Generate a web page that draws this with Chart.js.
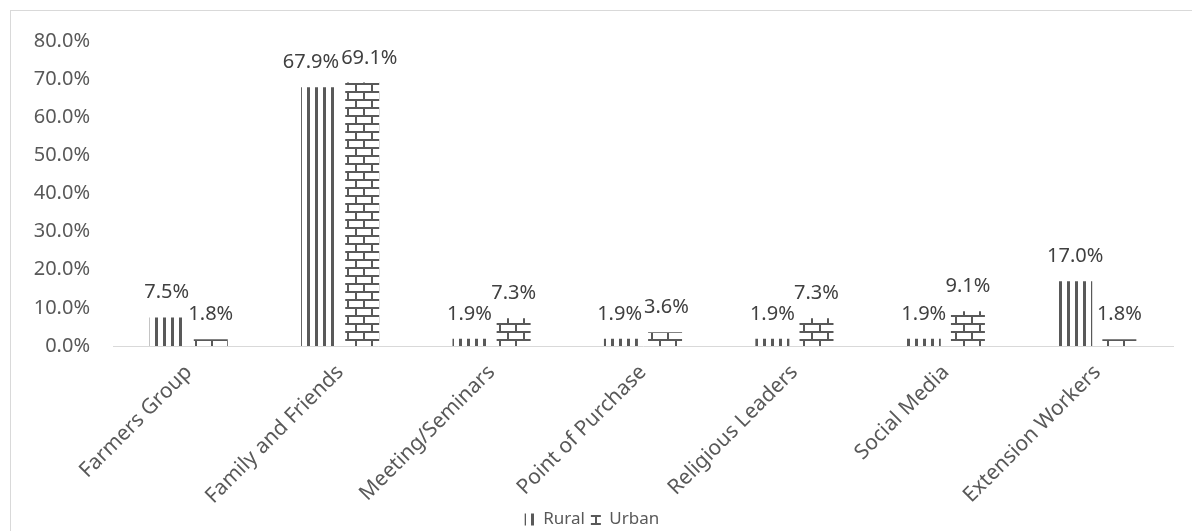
<!DOCTYPE html>
<html>
<head>
<meta charset="utf-8">
<script src="https://cdn.jsdelivr.net/npm/chart.js@4"></script>
<style>
  body { margin: 0; background: #fff; }
  .frame { position: absolute; left: 10px; top: 10px; width: 1181px; height: 520px;
           border-left: 1px solid #d9d9d9; border-top: 1px solid #d9d9d9; }
</style>
</head>
<body>
<div class="frame"><canvas id="myChart" width="1181" height="520"></canvas></div>
<script>
const categories = ["Farmers Group", "Family and Friends", "Meeting/Seminars", "Point of Purchase",
                    "Religious Leaders", "Social Media", "Extension Workers"];
const ruralValues = [7.5, 67.9, 1.9, 1.9, 1.9, 1.9, 17.0];
const urbanValues = [1.8, 69.1, 7.3, 3.6, 7.3, 9.1, 1.8];
const yTicks = [0, 10, 20, 30, 40, 50, 60, 70, 80];

const ink = "#595959";
const fontName = "'Noto Sans', sans-serif";

// vertical stripes for rural
const makeStripes = () => {
  const c = document.createElement("canvas");
  c.width = 8; c.height = 8;
  const g = c.getContext("2d");
  g.fillStyle = "#fff"; g.fillRect(0, 0, 8, 8);
  g.fillStyle = ink; g.fillRect(0, 0, 3, 8);
  return g.createPattern(c, "repeat");
}

// horizontal brick for urban
const makeBricks = () => {
  const c = document.createElement("canvas");
  c.width = 16; c.height = 16;
  const g = c.getContext("2d");
  g.fillStyle = "#fff"; g.fillRect(0, 0, 16, 16);
  g.fillStyle = ink;
  g.fillRect(0, 0, 16, 2);
  g.fillRect(0, 8, 16, 2);
  g.fillRect(0, 0, 2, 8);
  g.fillRect(8, 8, 2, 8);
  return g.createPattern(c, "repeat");
}

const valueLabels = {
  id: "valueLabels",
  afterDatasetsDraw(chart) {
    const ctx = chart.ctx;
    ctx.save();
    ctx.font = "20px " + fontName;
    ctx.fillStyle = "#404040";
    ctx.textAlign = "center";
    ctx.textBaseline = "alphabetic";
    const a = chart.getDatasetMeta(0).data;
    const b = chart.getDatasetMeta(1).data;
    categories.forEach((c, j) => {
      const t1 = ruralValues[j].toFixed(1) + "%";
      const t2 = urbanValues[j].toFixed(1) + "%";
      let x1 = a[j].x, x2 = b[j].x;
      const y1 = a[j].y - 19, y2 = b[j].y - 19;
      // push labels apart when they collide, like Excel does
      const w1 = ctx.measureText(t1).width, w2 = ctx.measureText(t2).width;
      const overlap = (x1 + w1 / 2 + 2) - (x2 - w2 / 2);
      if (overlap > 0 && Math.abs(y1 - y2) < 16) {
        x1 -= overlap / 2;
        x2 += overlap / 2;
      }
      ctx.fillText(t1, x1, y1);
      ctx.fillText(t2, x2, y2);
    });
    ctx.restore();
  }
};

new Chart(document.getElementById("myChart"), {
  type: "bar",
  data: {
    labels: categories,
    datasets: [
      { label: "Rural", data: ruralValues, backgroundColor: makeStripes(), borderWidth: 0,
        categoryPercentage: 0.583, barPercentage: 0.77 },
      { label: "Urban", data: urbanValues, backgroundColor: makeBricks(), borderWidth: 0,
        categoryPercentage: 0.583, barPercentage: 0.77 }
    ]
  },
  options: {
    responsive: false,
    animation: false,
    layout: { padding: { top: 30, right: 19, left: 0, bottom: -7 } },
    plugins: {
      tooltip: { enabled: false },
      legend: {
        position: "bottom",
        labels: { font: { family: fontName, size: 17 }, color: ink, boxWidth: 10, boxHeight: 12, padding: 6 }
      }
    },
    scales: {
      y: {
        min: 0, max: 80,
        afterFit: (s) => { s.width = 102; },
        afterBuildTicks: (s) => { s.ticks = yTicks.map(v => ({ value: v })); },
        // grid hidden, tick length only used as label gap
        grid: { display: false, drawTicks: true, tickLength: 20 },
        border: { display: false },
        ticks: { padding: 3, color: ink, font: { family: fontName, size: 20 },
                 callback: (v) => v.toFixed(1) + "%" }
      },
      x: {
        afterFit: (s) => { s.height = 159; },
        grid: { display: false, drawTicks: false },
        border: { display: true, color: "#d9d9d9", width: 1 },
        ticks: { padding: 14, color: ink, font: { family: fontName, size: 21 },
                 minRotation: 45, maxRotation: 45, autoSkip: false }
      }
    }
  },
  plugins: [valueLabels]
});
</script>
</body>
</html>
